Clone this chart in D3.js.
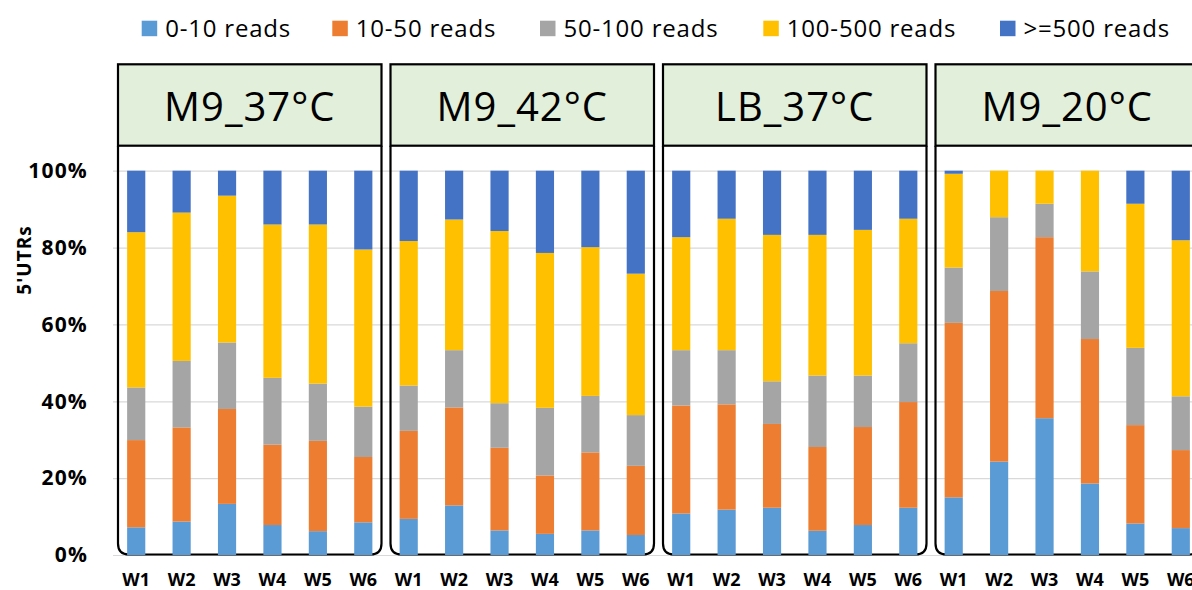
<!DOCTYPE html>
<html>
<head>
<meta charset="utf-8">
<script src="https://cdn.jsdelivr.net/npm/d3@7"></script>
<style>
  html, body { margin: 0; padding: 0; background: #fff; }
  svg { display: block; }
</style>
</head>
<body>
<svg id="chart" width="1192" height="590"></svg>
<script>
// ---------- data ----------
const conditions = ["M9_37°C", "M9_42°C", "LB_37°C", "M9_20°C"];
const weeks = ["W1", "W2", "W3", "W4", "W5", "W6"];
const seriesNames = ["0-10 reads", "10-50 reads", "50-100 reads", "100-500 reads", ">=500 reads"];
const seriesColors = ["#5B9BD5", "#ED7D31", "#A5A5A5", "#FFC000", "#4472C4"];
const yTicks = [0, 0.2, 0.4, 0.6, 0.8, 1.0];
const yTitle = "5'UTRs";

// percent of 5'UTRs per class, 24 bars in order (condition x week)
const reads0_10 = [7.2, 8.7, 13.3, 7.8, 6.2, 8.5, 9.4, 12.9, 6.4, 5.5, 6.4, 5.2, 10.8, 11.8, 12.3, 6.3, 7.8, 12.3, 15.0, 24.3, 35.6, 18.6, 8.2, 7.0];
const reads10_50 = [22.7, 24.5, 24.7, 20.9, 23.5, 17.0, 22.9, 25.5, 21.5, 15.2, 20.3, 18.0, 28.1, 27.4, 21.8, 21.8, 25.5, 27.5, 45.4, 44.4, 47.1, 37.6, 25.6, 20.3];
const reads50_100 = [13.7, 17.3, 17.3, 17.4, 14.9, 13.1, 11.8, 14.9, 11.6, 17.6, 14.7, 13.2, 14.4, 14.1, 11.1, 18.6, 13.4, 15.3, 14.4, 19.2, 8.7, 17.6, 20.1, 14.0];
const reads100_500 = [40.4, 38.6, 38.2, 39.9, 41.4, 40.9, 37.6, 34.0, 44.8, 40.3, 38.7, 36.8, 29.4, 34.2, 38.1, 36.6, 37.9, 32.4, 24.4, 12.1, 8.6, 26.2, 37.5, 40.6];
const reads500 = [16.0, 10.9, 6.5, 14.0, 14.0, 20.5, 18.3, 12.7, 15.7, 21.4, 19.9, 26.8, 17.3, 12.5, 16.7, 16.7, 15.4, 12.5, 0.8, 0, 0, 0, 8.6, 18.1];

// ---------- build table ----------
const seriesValues = [reads0_10, reads10_50, reads50_100, reads100_500, reads500];
const rows = [];
conditions.forEach((c, ci) => {
  weeks.forEach((w, wi) => {
    const i = ci * weeks.length + wi;
    const r = { key: c + "|" + w, cond: c, week: w };
    seriesNames.forEach((s, si) => { r[s] = seriesValues[si][i]; });
    rows.push(r);
  });
});

const svg = d3.select("#chart");
const W = 1192;

const x = d3.scaleBand()
  .domain(rows.map(d => d.key))
  .range([113.5, 1203.5])
  .paddingInner(0.6)
  .paddingOuter(0.3);

const y = d3.scaleLinear().domain([0, 1]).range([555, 170.7]);

const stack = d3.stack().keys(seriesNames).offset(d3.stackOffsetExpand);
const stacked = stack(rows);

// ---------- gridlines + y labels ----------
const yAxis = svg.append("g")
  .attr("transform", "translate(113,0)")
  .call(d3.axisLeft(y).tickValues(yTicks).tickFormat(d3.format(".0%"))
    .tickSizeInner(-(W - 113)).tickSizeOuter(0).tickPadding(25));
yAxis.select(".domain").remove();
yAxis.selectAll(".tick line").attr("stroke", "#d9d9d9").attr("stroke-width", 1.2);
yAxis.selectAll(".tick text")
  .attr("font-family", "'Open Sans', sans-serif")
  .attr("font-weight", "bold")
  .attr("font-size", 21)
  .attr("letter-spacing", 1.2)
  .attr("fill", "#000");

// y title
svg.append("text")
  .attr("transform", "translate(31,260) rotate(-90)")
  .attr("text-anchor", "middle")
  .attr("font-family", "'Open Sans', sans-serif")
  .attr("font-weight", "bold")
  .attr("font-size", 19)
  .attr("letter-spacing", 1)
  .text(yTitle);

// ---------- panels ----------
const step = x.step();
const headerTop = 64.3, headerBottom = 145.7, bodyBottom = 554.5, rad = 11;
conditions.forEach(c => {
  const firstKey = c + "|" + weeks[0];
  const gStart = x(firstKey) - step * x.paddingOuter();
  const gEnd = gStart + weeks.length * step;
  const L = gStart + 4.5, R = gEnd - 4.5;
  const g = svg.append("g");
  g.append("path")
    .attr("d", `M${L},${headerBottom} L${L},${bodyBottom - rad} Q${L},${bodyBottom} ${L + rad},${bodyBottom} L${R - rad},${bodyBottom} Q${R},${bodyBottom} ${R},${bodyBottom - rad} L${R},${headerBottom}`)
    .attr("fill", "none").attr("stroke", "#000").attr("stroke-width", 2.2);
  g.append("rect")
    .attr("x", L).attr("y", headerTop)
    .attr("width", R - L).attr("height", headerBottom - headerTop)
    .attr("fill", "#E2EFDA").attr("stroke", "#000").attr("stroke-width", 2.2);
  g.append("text")
    .attr("x", (L + R) / 2).attr("y", 121)
    .attr("text-anchor", "middle")
    .attr("font-family", "'Open Sans', sans-serif")
    .attr("font-size", 40)
    .attr("letter-spacing", 1)
    .attr("fill", "#000")
    .text(c);
});

// ---------- bars ----------
svg.append("g").selectAll("g")
  .data(stacked)
  .join("g")
  .attr("fill", (d, i) => seriesColors[i])
  .selectAll("rect")
  .data(d => d)
  .join("rect")
  .attr("x", d => x(d.data.key))
  .attr("width", x.bandwidth())
  .attr("y", d => y(d[1]))
  .attr("height", d => Math.max(0, y(d[0]) - y(d[1])));

// ---------- x labels ----------
const xAxis = svg.append("g")
  .attr("transform", "translate(0,555)")
  .call(d3.axisBottom(x).tickSize(0).tickPadding(0).tickFormat(k => k.split("|")[1]));
xAxis.select(".domain").remove();
xAxis.selectAll(".tick text")
  .attr("dy", 0)
  .attr("y", 31)
  .attr("font-family", "'Open Sans', sans-serif")
  .attr("font-weight", "bold")
  .attr("font-size", 18)
  .attr("fill", "#000");

// ---------- legend ----------
const legendX = [141.7, 332.3, 540, 763.3, 1000];
const legend = svg.append("g");
seriesNames.forEach((s, i) => {
  legend.append("rect")
    .attr("x", legendX[i]).attr("y", 20.7)
    .attr("width", 15.5).attr("height", 15.5)
    .attr("fill", seriesColors[i]);
  legend.append("text")
    .attr("x", legendX[i] + 23.5).attr("y", 37.3)
    .attr("font-family", "'Open Sans', sans-serif")
    .attr("font-size", 24)
    .attr("letter-spacing", 0.8)
    .attr("fill", "#000")
    .text(s);
});
</script>
</body>
</html>
